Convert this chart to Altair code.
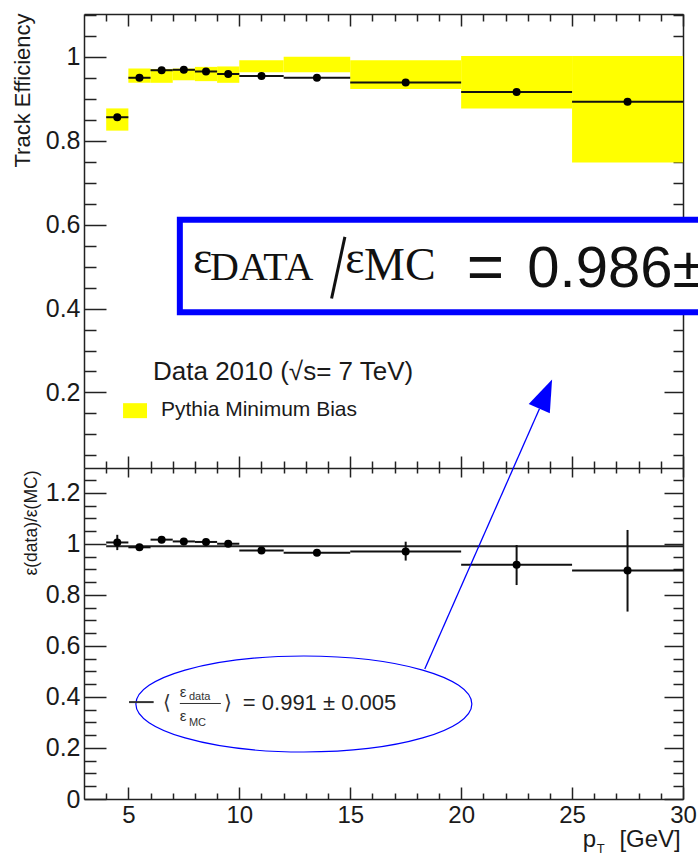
import altair as alt
import pandas as pd

# ---------------- data ----------------
bin_lo = [4, 5, 6, 7, 8, 9, 10, 12, 15, 20, 25]
bin_hi = [5, 6, 7, 8, 9, 10, 12, 15, 20, 25, 30]
pt_center = [4.5, 5.5, 6.5, 7.5, 8.5, 9.5, 11, 13.5, 17.5, 22.5, 27.5]
eff_data = [0.856, 0.950, 0.968, 0.969, 0.965, 0.959, 0.954, 0.950, 0.939, 0.916, 0.893]
mc_lo = [0.824, 0.938, 0.938, 0.944, 0.942, 0.938, 0.963, 0.963, 0.923, 0.877, 0.748]
mc_hi = [0.877, 0.972, 0.971, 0.972, 0.976, 0.977, 0.992, 1.000, 0.992, 1.002, 1.002]
ratio = [1.006, 0.987, 1.017, 1.010, 1.008, 1.001, 0.974, 0.966, 0.971, 0.919, 0.896]
ratio_lo = [0.976, 0.980, 1.010, 1.003, 1.001, 0.994, 0.967, 0.959, 0.935, 0.839, 0.735]
ratio_hi = [1.036, 0.994, 1.024, 1.017, 1.015, 1.008, 0.981, 0.973, 1.009, 0.996, 1.055]
fit_value = 0.991
fit_range = [4, 30]

x_major = [5, 10, 15, 20, 25, 30]
x_minor = [v for v in range(4, 30) if v % 5 != 0]
yt_major = [0.2, 0.4, 0.6, 0.8, 1.0]
yt_minor = [round(0.05 * i, 2) for i in range(1, 23) if i % 4 != 0]
yb_major = [0, 0.2, 0.4, 0.6, 0.8, 1.0, 1.2]
yb_minor = [round(0.05 * i, 2) for i in range(1, 26) if i % 4 != 0]

W, H, HT = 599, 785, 454
FONT = "Liberation Sans"
SERIF = "Liberation Serif"
INK = "#1a1a1a"
BLUE = "#0000ff"

XS = alt.Scale(domain=[3, 30], nice=False, zero=False)
YT = alt.Scale(domain=[0.02, 1.102], range=[HT, 0], nice=False, zero=False)
YB = alt.Scale(domain=[0, 1.298], range=[H, HT], nice=False, zero=False)

df = pd.DataFrame({"lo": bin_lo, "hi": bin_hi, "pt": pt_center, "eff": eff_data,
                   "mlo": mc_lo, "mhi": mc_hi, "r": ratio, "rlo": ratio_lo, "rhi": ratio_hi})
dummy = pd.DataFrame({"x": [10], "y": [0.5]})


def X(f):
    return alt.X(f, scale=XS, axis=None)


def axis_layer(channel, scale, **kw):
    base = dict(grid=False, tickColor="#222", tickWidth=1.5, domainColor="#222",
                domainWidth=1.5, labelFlush=False, labelOverlap=False)
    base.update(kw)
    ax = alt.Axis(**base)
    c = alt.Chart(dummy).mark_point(opacity=0)
    if channel == "x":
        return c.encode(x=alt.X("x:Q", scale=XS, axis=ax), y=alt.Y("y:Q", scale=scale, axis=None))
    return c.encode(x=alt.X("x:Q", scale=XS, axis=None), y=alt.Y("y:Q", scale=scale, axis=ax))


def tick_axis(channel, scale, values, orient, offset, size, domain):
    return axis_layer(channel, scale, values=values, orient=orient, offset=offset,
                      tickSize=size, labels=False, domain=domain, title=None)


def text_layer(x, y, s, scale, size, font=FONT, align="left", baseline="alphabetic", color=INK):
    d = pd.DataFrame({"x": [x], "y": [y], "t": [s]})
    return alt.Chart(d).mark_text(align=align, baseline=baseline, font=font,
                                  fontSize=size, color=color).encode(
        x=X("x:Q"), y=alt.Y("y:Q", scale=scale, axis=None), text="t:N")


def seg(x1, x2, y1, y2, scale, color, width):
    d = pd.DataFrame({"x": [x1], "x2": [x2], "y": [y1], "y2": [y2]})
    return alt.Chart(d).mark_rule(color=color, strokeWidth=width).encode(
        x=X("x:Q"), x2="x2:Q", y=alt.Y("y:Q", scale=scale, axis=None), y2="y2:Q")


layers = []

# ---------------- axes (ROOT style, ticks inside) ----------------
layers.append(axis_layer("y", YT, orient="left", values=yt_major, format="~g", ticks=False,
                         domain=False, labelPadding=4, labelFont=FONT, labelFontSize=25,
                         labelColor=INK, title="Track Efficiency", titleFont=FONT,
                         titleFontSize=22, titleFontWeight="normal", titleColor=INK,
                         titleAngle=270, titleX=-55, titleY=-1, titleAlign="right",
                         titleBaseline="alphabetic"))
layers.append(axis_layer("y", YB, orient="left", values=yb_major, format="~g", ticks=False,
                         domain=False, labelPadding=4, labelFont=FONT, labelFontSize=25,
                         labelColor=INK, title="ε(data)/ε(MC)", titleFont=FONT,
                         titleFontSize=17.5, titleFontWeight="normal", titleColor=INK,
                         titleAngle=270, titleX=-48, titleY=456, titleAlign="right",
                         titleBaseline="alphabetic"))
layers.append(axis_layer("x", YB, orient="bottom", values=x_major, format="d", ticks=False,
                         domain=False, labelPadding=4, labelFont=FONT, labelFontSize=24,
                         labelColor=INK, title=None))
for sc, maj, mnr in [(YT, yt_major, yt_minor), (YB, yb_major, yb_minor)]:
    layers.append(tick_axis("y", sc, maj, "right", -W, 22, True))
    layers.append(tick_axis("y", sc, mnr, "right", -W, 12, False))
    layers.append(tick_axis("y", sc, maj, "left", -W, 19, True))
    layers.append(tick_axis("y", sc, mnr, "left", -W, 10, False))
layers.append(tick_axis("x", YB, x_major, "top", -H, 12, True))
layers.append(tick_axis("x", YB, x_minor, "top", -H, 6, False))
layers.append(tick_axis("x", YB, x_major, "top", -HT, 12, True))
layers.append(tick_axis("x", YB, x_minor, "top", -HT, 7, False))
layers.append(tick_axis("x", YB, x_major, "bottom", -(H - HT), 9, False))
layers.append(tick_axis("x", YB, x_minor, "bottom", -(H - HT), 5, False))
layers.append(tick_axis("x", YB, x_major, "bottom", -H, 12, True))
layers.append(tick_axis("x", YB, x_minor, "bottom", -H, 7, False))

# ---------------- top panel ----------------
base = alt.Chart(df)
layers.append(base.mark_rect(color="#ffff00").encode(
    x=X("lo:Q"), x2="hi:Q", y=alt.Y("mlo:Q", scale=YT, axis=None), y2="mhi:Q"))
layers.append(base.mark_rule(color="#111", strokeWidth=2).encode(
    x=X("lo:Q"), x2="hi:Q", y=alt.Y("eff:Q", scale=YT, axis=None)))
layers.append(base.mark_circle(size=64, color="#000", opacity=1).encode(
    x=X("pt:Q"), y=alt.Y("eff:Q", scale=YT, axis=None)))

# legend
leg = pd.DataFrame({"x": [4.76], "x2": [5.84], "y": [0.1388], "y2": [0.1745]})
layers.append(alt.Chart(leg).mark_rect(color="#ffff00").encode(
    x=X("x:Q"), x2="x2:Q", y=alt.Y("y:Q", scale=YT, axis=None), y2="y2:Q"))
layers.append(text_layer(6.11, 0.2293, "Data 2010 (√s= 7 TeV)", YT, 26))
layers.append(text_layer(6.47, 0.1435, "Pythia Minimum Bias", YT, 21))

# blue annotation box
box = pd.DataFrame({"x": [7.32], "x2": [31.5], "y": [0.3914], "y2": [0.6114]})
layers.append(alt.Chart(box).mark_rect(fill="#ffffff", stroke=BLUE, strokeWidth=6).encode(
    x=X("x:Q"), x2="x2:Q", y=alt.Y("y:Q", scale=YT, axis=None), y2="y2:Q"))
layers.append(text_layer(7.91, 0.4844, "ε", YT, 46, font=SERIF, color="#111"))
layers.append(text_layer(8.68, 0.4677, "DATA", YT, 40, font=SERIF, color="#111"))
layers.append(seg(14.76, 14.16, 0.5709, 0.4241, YT, "#111", 3))
layers.append(text_layer(14.78, 0.4844, "ε", YT, 46, font=SERIF, color="#111"))
layers.append(text_layer(15.62, 0.4677, "MC", YT, 46, font=SERIF, color="#111"))
layers.append(text_layer(20.25, 0.4462, "=", YT, 64, color="#111"))
layers.append(text_layer(22.98, 0.4517, "0.986±", YT, 58, color="#111"))

# ---------------- bottom panel ----------------
layers.append(seg(fit_range[0], fit_range[1], fit_value, fit_value, YB, "#222", 2))
layers.append(base.mark_rule(color="#111", strokeWidth=2).encode(
    x=X("lo:Q"), x2="hi:Q", y=alt.Y("r:Q", scale=YB, axis=None)))
layers.append(base.mark_rule(color="#111", strokeWidth=2).encode(
    x=X("pt:Q"), y=alt.Y("rlo:Q", scale=YB, axis=None), y2="rhi:Q"))
layers.append(base.mark_circle(size=64, color="#000", opacity=1).encode(
    x=X("pt:Q"), y=alt.Y("r:Q", scale=YB, axis=None)))

# ellipse + fit legend
b, k = 0.2857, 0.1578
ell_path = (f"M-1,0 C-1,-{k} -0.5523,-{b} 0,-{b} C0.5523,-{b} 1,-{k} 1,0 "
            f"C1,{k} 0.5523,{b} 0,{b} C-0.5523,{b} -1,{k} -1,0 Z")
ell = pd.DataFrame({"x": [12.91], "y": [0.3725]})
layers.append(alt.Chart(ell).mark_point(shape=ell_path, filled=False, color=BLUE, opacity=1,
                                         strokeWidth=1.2, size=336 * 336).encode(
    x=X("x:Q"), y=alt.Y("y:Q", scale=YB, axis=None)))
layers.append(seg(5.03, 6.14, 0.380, 0.380, YB, "#333", 2))
layers.append(text_layer(6.56, 0.3765, "⟨", YB, 20, font="DejaVu Sans", baseline="middle", color="#333"))
layers.append(text_layer(7.32, 0.400, "ε", YB, 15, color="#333"))
layers.append(text_layer(7.73, 0.388, "data", YB, 11, color="#333"))
layers.append(seg(7.32, 9.17, 0.3745, 0.3745, YB, "#333", 1))
layers.append(text_layer(7.32, 0.306, "ε", YB, 15, color="#333"))
layers.append(text_layer(7.73, 0.2863, "MC", YB, 11, color="#333"))
layers.append(text_layer(9.31, 0.3765, "⟩", YB, 20, font="DejaVu Sans", baseline="middle", color="#333"))
layers.append(text_layer(10.16, 0.349, "= 0.991 ± 0.005", YB, 22, color="#222"))

# arrow
layers.append(seg(18.36, 23.53, 0.5098, 1.5306, YB, BLUE, 1.3))
arr = pd.DataFrame({"x": [23.81], "y": [1.588]})
layers.append(alt.Chart(arr).mark_point(shape="M0,-1 L0.72,1 L-0.72,1 Z", filled=True, color=BLUE,
                                         opacity=1, size=1024, angle=23.6).encode(
    x=X("x:Q"), y=alt.Y("y:Q", scale=YB, axis=None)))

# x axis title p_T [GeV]
layers.append(text_layer(25.48, -0.188, "p", YB, 24))
layers.append(text_layer(26.11, -0.212, "T", YB, 13))
layers.append(text_layer(29.9, -0.188, "[GeV]", YB, 24, align="right"))

chart = alt.layer(*layers).properties(
    width=W, height=H,
    padding={"left": 84, "top": 14, "right": 15, "bottom": 56},
    autosize=alt.AutoSizeParams(type="none"),
).resolve_scale(y="independent").resolve_axis(x="independent", y="independent").configure_view(stroke=None)

chart.save("out.html", embed_options={"renderer": "svg", "actions": False})
